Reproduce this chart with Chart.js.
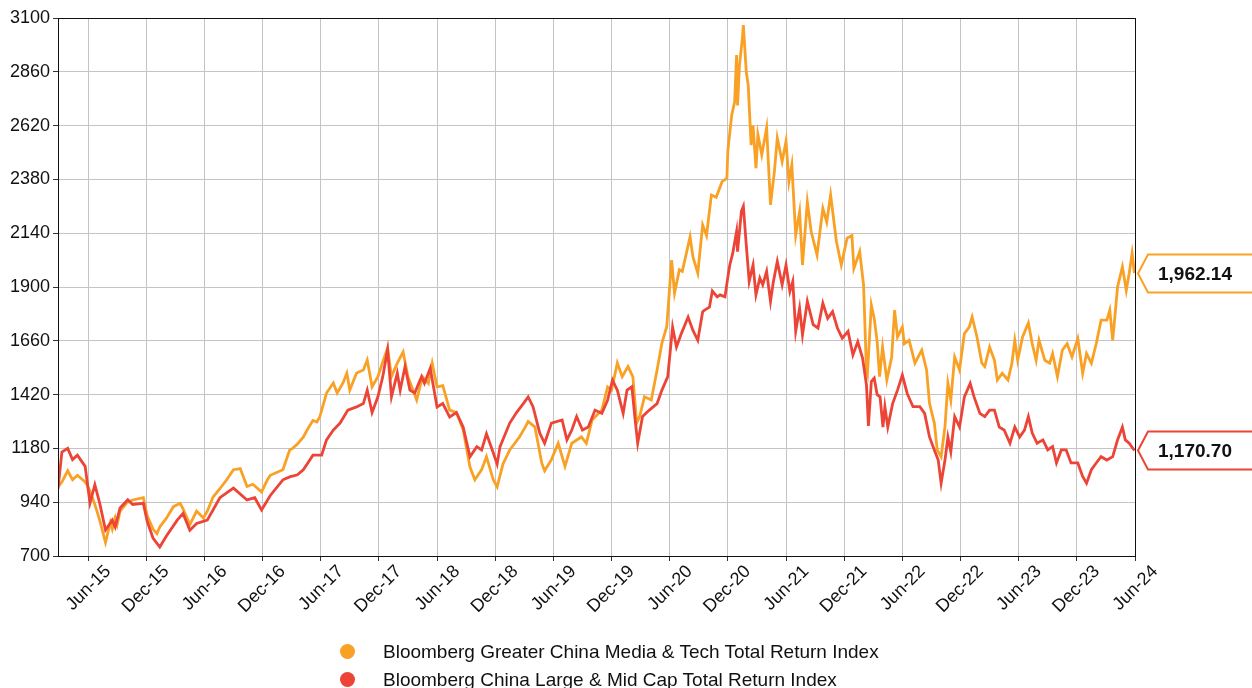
<!DOCTYPE html>
<html>
<head>
<meta charset="utf-8">
<script src="https://cdn.jsdelivr.net/npm/chart.js@4.4.1/dist/chart.umd.min.js"></script>
<style>
  body{margin:0;background:#fff;font-family:"Liberation Sans",Arial,sans-serif;}
  #wrap{position:relative;width:1252px;height:688px;overflow:hidden;}
  #legend{position:absolute;left:340px;top:638px;font-size:19px;color:#111;line-height:28px;}
  #legend div{white-space:nowrap;}
  #legend span{display:inline-block;width:15px;height:15px;border-radius:50%;margin-right:28px;vertical-align:-1px;}
</style>
</head>
<body>
<div id="wrap">
  <canvas id="myChart" width="1252" height="688"></canvas>
  <div id="legend"></div>
</div>
<script>
// months counted from Jan-15 (Jun-15 = 6, Dec-15 = 12 ...)
const seriesNames = ['Bloomberg Greater China Media & Tech Total Return Index', 'Bloomberg China Large & Mid Cap Total Return Index'];
const seriesColors = ['#F9A125', '#EC4436'];

const tickMonths = [6,12,18,24,30,36,42,48,54,60,66,72,78,84,90,96,102,108,114];
const tickLabels = ['Jun-15','Dec-15','Jun-16','Dec-16','Jun-17','Dec-17','Jun-18','Dec-18','Jun-19','Dec-19','Jun-20','Dec-20','Jun-21','Dec-21','Jun-22','Dec-22','Jun-23','Dec-23','Jun-24'];

// Media & Tech (orange)
const mtMonths = [2.9,3.3,3.9,4.4,4.9,5.7,5.9,6.2,6.7,7.2,7.8,8.3,8.5,8.8,9.0,9.3,10.0,10.6,11.7,12.1,12.7,13.1,13.4,14.1,14.8,15.5,15.8,16.5,17.2,17.9,18.3,18.9,19.6,20.3,21.0,21.7,22.4,23.0,23.9,24.5,24.8,26.1,26.8,27.1,27.6,28.2,28.6,29.2,29.6,29.9,30.6,31.3,31.7,32.3,32.7,33.0,33.7,34.4,34.8,35.3,35.9,36.3,36.9,37.3,37.9,38.5,39.0,39.9,40.5,41.1,41.5,42.0,42.6,43.3,44.0,44.7,45.4,45.9,46.6,47.1,47.8,48.2,48.8,49.5,50.5,51.1,51.4,52.1,52.8,53.1,53.8,54.5,55.2,55.9,56.9,57.4,58.0,59.0,59.6,60.0,60.6,61.1,61.7,62.2,62.6,62.9,63.4,64.1,64.7,65.2,65.7,66.2,66.5,67.0,67.3,68.1,68.4,68.9,69.4,69.8,70.3,70.8,71.4,71.9,72.0,72.4,72.7,72.9,73.0,73.2,73.5,73.6,73.9,74.1,74.4,74.6,74.9,75.1,75.5,76.0,76.4,76.8,77.1,77.6,78.0,78.3,78.6,79.0,79.4,79.7,80.2,80.6,81.2,81.8,82.2,82.6,83.2,83.7,84.3,84.8,85.0,85.6,86.0,86.3,86.4,86.8,87.1,87.4,87.65,87.96,88.4,88.9,89.2,89.5,90.0,90.2,90.7,91.3,92.0,92.5,92.8,93.3,93.6,94.0,94.4,94.7,95.0,95.4,95.9,96.4,96.9,97.2,97.7,98.2,98.5,99.0,99.5,99.8,100.3,100.9,101.3,101.6,101.9,102.4,103.0,103.4,103.8,104.1,104.7,105.2,105.5,106.0,106.5,107.0,107.5,108.1,108.6,109.0,109.5,110.0,110.5,111.1,111.4,111.7,112.2,112.7,113.1,113.4,113.7,113.94];
const mtValues = [1008,1030,1080,1040,1060,1030,1017,990,930,860,760,850,820,870,840,900,937,950,960,880,820,800,830,870,920,935,910,840,900,870,900,963,1000,1040,1085,1090,1010,1020,986,1040,1060,1085,1173,1180,1200,1230,1262,1305,1298,1320,1427,1472,1427,1472,1516,1440,1516,1530,1574,1455,1500,1552,1628,1500,1560,1610,1500,1396,1500,1470,1560,1455,1460,1351,1340,1262,1097,1040,1085,1143,1040,1008,1110,1173,1231,1275,1300,1275,1115,1080,1130,1203,1100,1203,1231,1203,1307,1351,1454,1440,1561,1500,1545,1500,1293,1322,1410,1396,1530,1650,1724,2020,1873,1977,1970,2123,2034,1962,2177,2130,2310,2300,2370,2385,2507,2667,2725,2935,2710,2890,3010,3068,2860,2800,2533,2620,2430,2580,2490,2610,2266,2415,2565,2460,2550,2370,2445,2132,2235,1998,2280,2146,2043,2250,2190,2310,2103,1998,2118,2130,1983,2058,1909,1525,1510,1820,1760,1656,1500,1632,1485,1588,1797,1677,1721,1647,1662,1560,1618,1530,1381,1293,1173,1143,1278,1470,1396,1588,1530,1692,1721,1766,1677,1560,1545,1632,1573,1485,1515,1485,1560,1662,1573,1677,1740,1647,1573,1662,1573,1560,1603,1500,1618,1647,1588,1670,1515,1603,1560,1647,1752,1752,1797,1662,1900,1990,1885,1960,2050,1962.14];

// Large & Mid Cap (red)
const lmMonths = [2.9,3.3,3.9,4.4,4.9,5.7,6.2,6.7,7.2,7.8,8.5,8.8,9.3,10.1,10.6,11.7,12.1,12.7,13.4,14.1,15.2,15.8,16.5,17.2,18.3,19.6,21.0,22.4,23.2,23.9,24.8,26.1,26.8,27.6,28.2,28.6,29.2,30.1,30.6,31.3,32.0,32.8,33.7,34.4,34.8,35.3,35.9,36.4,36.9,37.3,37.9,38.2,38.7,39.2,39.7,40.4,40.7,41.3,42.0,42.6,43.3,44.0,44.7,45.4,46.1,46.6,47.1,47.7,48.2,48.5,49.5,50.2,50.9,51.4,51.9,52.6,53.1,53.8,54.9,55.4,55.9,56.4,57.0,57.6,58.3,59.0,59.6,60.1,60.6,61.2,61.6,62.1,62.4,62.7,63.2,63.9,64.7,65.2,65.8,66.3,66.7,67.2,67.9,68.4,68.9,69.4,69.6,70.1,70.4,70.9,71.2,71.7,72.0,72.2,72.5,72.9,73.0,73.4,73.6,73.9,74.2,74.6,74.9,75.3,75.6,76.0,76.4,76.7,77.1,77.6,78.0,78.4,78.7,79.0,79.4,79.7,80.2,80.8,81.3,81.8,82.3,82.8,83.3,83.8,84.4,84.9,85.4,85.9,86.3,86.5,86.8,87.1,87.4,87.7,88.0,88.2,88.5,89.0,89.5,90.0,90.5,91.1,91.8,92.3,92.8,93.3,93.7,94.0,94.4,94.7,95.0,95.4,95.9,96.4,97.0,97.4,98.0,98.5,99.0,99.5,100.0,100.5,101.1,101.6,102.1,102.6,103.0,103.4,103.9,104.5,105.0,105.5,105.9,106.4,106.9,107.4,108.1,108.6,109.0,109.5,110.0,110.5,111.1,111.7,112.2,112.7,113.0,113.4,113.94];
const lmValues = [1000,1164,1180,1130,1150,1100,936,1018,936,816,860,830,914,951,930,935,855,780,740,790,860,890,815,845,860,960,1003,950,960,905,970,1040,1053,1062,1085,1110,1150,1150,1218,1262,1293,1351,1365,1380,1440,1340,1410,1500,1620,1410,1516,1440,1545,1440,1427,1500,1470,1538,1365,1380,1320,1340,1275,1143,1188,1173,1245,1173,1110,1188,1293,1340,1380,1410,1366,1248,1203,1293,1307,1218,1262,1322,1262,1275,1351,1336,1396,1485,1440,1336,1440,1455,1322,1203,1322,1351,1380,1440,1500,1721,1632,1692,1766,1706,1662,1790,1797,1810,1882,1856,1865,1856,1944,1998,2050,2148,2058,2239,2260,2088,1925,1998,1865,1940,1910,1970,1836,1925,2014,1910,1998,1880,1925,1702,1805,1686,1836,1732,1717,1828,1760,1790,1717,1672,1702,1597,1656,1582,1463,1280,1478,1493,1420,1410,1275,1366,1275,1380,1440,1507,1425,1366,1366,1336,1231,1173,1128,1025,1128,1231,1165,1322,1275,1410,1470,1410,1336,1322,1351,1351,1275,1262,1203,1275,1231,1262,1322,1248,1203,1218,1173,1188,1115,1173,1173,1115,1115,1055,1025,1085,1115,1143,1128,1143,1218,1275,1218,1203,1170.70];

const yMin = 700, yMax = 3100, yStep = 240;

function toPoints(xs, ys){
  return xs.map((x, i) => ({x: x, y: ys[i]}));
}

// arrow boxes with the last value at the right side
const lastValueBoxes = {
  id: 'lastValueBoxes',
  afterDraw(chart){
    const c = chart.ctx;
    const area = chart.chartArea;
    const ys = chart.scales.y;
    chart.data.datasets.forEach(ds => {
      const last = ds.data[ds.data.length - 1].y;
      const py = Math.round(ys.getPixelForValue(last)) + 0.5;
      const tip = area.right + 3;
      c.save();
      c.beginPath();
      c.moveTo(tip, py);
      c.lineTo(tip + 10, py - 19);
      c.lineTo(1262, py - 19);
      c.lineTo(1262, py + 19);
      c.lineTo(tip + 10, py + 19);
      c.closePath();
      c.fillStyle = '#fff';
      c.fill();
      c.lineWidth = 2;
      c.strokeStyle = ds.borderColor;
      c.stroke();
      c.fillStyle = '#111';
      c.font = 'bold 19px "Liberation Sans", Arial, sans-serif';
      c.textBaseline = 'middle';
      c.fillText(last.toLocaleString('en-US', {minimumFractionDigits: 2, maximumFractionDigits: 2}), tip + 20, py + 1);
      c.restore();
    });
  }
};

// black frame round the plot
const plotFrame = {
  id: 'plotFrame',
  afterDatasetsDraw(chart){
    const c = chart.ctx;
    const a = chart.chartArea;
    c.save();
    c.strokeStyle = '#111';
    c.lineWidth = 1;
    c.strokeRect(Math.round(a.left) + 0.5, Math.round(a.top) + 0.5, Math.round(a.right - a.left), Math.round(a.bottom - a.top));
    c.restore();
  }
};

const ctx = document.getElementById('myChart');

new Chart(ctx, {
  type: 'line',
  data: {
    datasets: [{
      label: seriesNames[0],
      data: toPoints(mtMonths, mtValues),
      borderColor: seriesColors[0],
      backgroundColor: seriesColors[0],
      borderWidth: 2.8,
      pointRadius: 0,
      tension: 0,
      order: 2
    },{
      label: seriesNames[1],
      data: toPoints(lmMonths, lmValues),
      borderColor: seriesColors[1],
      backgroundColor: seriesColors[1],
      borderWidth: 2.8,
      pointRadius: 0,
      tension: 0,
      order: 1
    }]
  },
  options: {
    responsive: false,
    animation: false,
    layout: { padding: { top: 18, right: 117, left: 0, bottom: 0 } },
    plugins: {
      legend: { display: false },
      tooltip: { enabled: false }
    },
    scales: {
      x: {
        type: 'linear',
        min: 2.9,
        max: 114,
        afterBuildTicks(scale){
          scale.ticks = tickMonths.map(v => ({value: v}));
        },
        afterFit(scale){ scale.height = 132; },
        ticks: {
          autoSkip: false,
          maxRotation: 45,
          minRotation: 45,
          color: '#111',
          padding: 0,
          labelOffset: 20,
          font: { family: '"Liberation Sans", Arial, sans-serif', size: 18 },
          callback: (v) => tickLabels[tickMonths.indexOf(v)]
        },
        grid: { color: '#c4c4c4', lineWidth: 1, tickLength: 5, tickColor: '#333' },
        border: { color: '#333' }
      },
      y: {
        min: yMin,
        max: yMax,
        afterBuildTicks(scale){
          const t = [];
          for (let v = yMin; v <= yMax; v += yStep) t.push({value: v});
          scale.ticks = t;
        },
        afterFit(scale){ scale.width = 58; },
        ticks: {
          color: '#111',
          padding: 3,
          font: { family: '"Liberation Sans", Arial, sans-serif', size: 18 },
          callback: (v) => String(v)
        },
        grid: { color: '#c4c4c4', lineWidth: 1, tickLength: 5, tickColor: '#333' },
        border: { color: '#333' }
      }
    }
  },
  plugins: [plotFrame, lastValueBoxes]
});

// legend below the chart, both rows start at the same x
const legend = document.getElementById('legend');
seriesNames.forEach((name, i) => {
  const row = document.createElement('div');
  row.innerHTML = '<span style="background:' + seriesColors[i] + '"></span>' + name;
  legend.appendChild(row);
});
</script>
</body>
</html>
